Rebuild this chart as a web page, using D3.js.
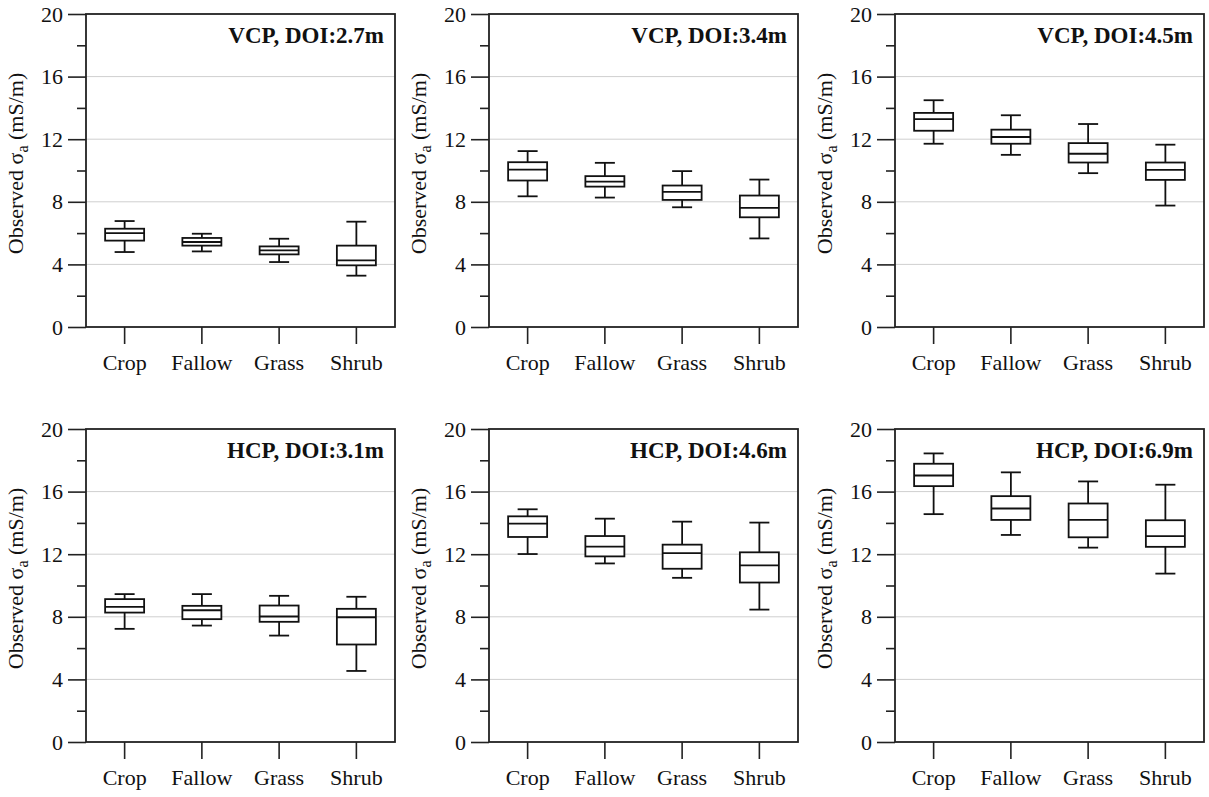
<!DOCTYPE html>
<html>
<head>
<meta charset="utf-8">
<script src="https://cdn.jsdelivr.net/npm/d3@7"></script>
<style>
  html, body { margin: 0; padding: 0; background: #fff; }
  svg { display: block; }
  text { font-family: "Liberation Serif", "Times New Roman", serif; fill: #111; }
</style>
</head>
<body>
<svg id="chart" width="1209" height="797"></svg>
<script>
// ---- data ----
const categories = ["Crop", "Fallow", "Grass", "Shrub"];
const panelTitles = ["VCP, DOI:2.7m", "VCP, DOI:3.4m", "VCP, DOI:4.5m",
                     "HCP, DOI:3.1m", "HCP, DOI:4.6m", "HCP, DOI:6.9m"];
const yMajorTicks = [0, 4, 8, 12, 16, 20];
const yMinorTicks = [2, 6, 10, 14, 18];
// each box: [lower whisker, Q1, median, Q3, upper whisker]
const vcp27 = [[4.79, 5.52, 6.00, 6.28, 6.77], [4.83, 5.20, 5.43, 5.69, 5.96],
               [4.15, 4.64, 4.90, 5.15, 5.64], [3.28, 3.94, 4.26, 5.20, 6.73]];
const vcp34 = [[8.35, 9.36, 10.06, 10.53, 11.24], [8.27, 8.97, 9.29, 9.64, 10.49],
               [7.65, 8.12, 8.63, 9.04, 9.96], [5.66, 7.01, 7.61, 8.40, 9.42]];
const vcp45 = [[11.71, 12.54, 13.28, 13.68, 14.49], [11.00, 11.71, 12.14, 12.61, 13.53],
               [9.83, 10.51, 11.07, 11.75, 12.97], [7.76, 9.40, 10.04, 10.51, 11.65]];
const hcp31 = [[7.23, 8.27, 8.64, 9.13, 9.45], [7.44, 7.85, 8.42, 8.70, 9.45],
               [6.80, 7.68, 8.02, 8.72, 9.34], [4.54, 6.23, 7.97, 8.51, 9.28]];
const hcp46 = [[12.01, 13.10, 13.95, 14.42, 14.87], [11.41, 11.86, 12.48, 13.16, 14.27],
               [10.49, 11.07, 12.07, 12.61, 14.08], [8.46, 10.19, 11.28, 12.12, 14.02]];
const hcp69 = [[14.56, 16.35, 17.03, 17.78, 18.44], [13.23, 14.19, 14.92, 15.71, 17.23],
               [12.42, 13.08, 14.19, 15.24, 16.65], [10.76, 12.47, 13.15, 14.17, 16.44]];
const panelData = [vcp27, vcp34, vcp45, hcp31, hcp46, hcp69];

// ---- layout ----
const colLeft = [86, 489, 895];
const rowTop = [14, 429];
const plotW = 309, plotH = 313;

const svg = d3.select("#chart");

panelData.forEach((boxes, i) => {
  const col = i % 3, row = Math.floor(i / 3);
  const g = svg.append("g").attr("transform", `translate(${colLeft[col]},${rowTop[row]})`);

  const y = d3.scaleLinear().domain([0, 20]).range([plotH, 0]);
  const x = d3.scaleBand().domain(categories).range([0, plotW]).padding(0);

  // gridlines
  g.append("g").selectAll("line").data(yMajorTicks.filter(t => t > 0 && t < 20)).join("line")
    .attr("x1", 0).attr("x2", plotW)
    .attr("y1", d => y(d)).attr("y2", d => y(d))
    .attr("stroke", "#cfcfcf").attr("stroke-width", 1);

  // y axis major
  const yAx = g.append("g").call(d3.axisLeft(y).tickValues(yMajorTicks).tickSize(18).tickPadding(5).tickFormat(d3.format("d")));
  yAx.select(".domain").remove();
  yAx.selectAll("line").attr("stroke", "#222").attr("stroke-width", 1.6);
  yAx.selectAll("text").style("font-family", '"Liberation Serif", serif').style("font-size", "22px").attr("fill", "#111");
  // y axis minor
  const yMin = g.append("g").call(d3.axisLeft(y).tickValues(yMinorTicks).tickSize(9).tickFormat(""));
  yMin.select(".domain").remove();
  yMin.selectAll("line").attr("stroke", "#222").attr("stroke-width", 1.6);

  // x axis
  const xAx = g.append("g").attr("transform", `translate(0,${plotH})`)
    .call(d3.axisBottom(x).tickSize(17).tickPadding(10));
  xAx.select(".domain").remove();
  xAx.selectAll("line").attr("stroke", "#222").attr("stroke-width", 1.6);
  xAx.selectAll("text").style("font-family", '"Liberation Serif", serif').style("font-size", "22px").attr("fill", "#111");

  // frame
  g.append("rect").attr("x", 0).attr("y", 0).attr("width", plotW).attr("height", plotH)
    .attr("fill", "none").attr("stroke", "#222").attr("stroke-width", 1.8);

  // boxes
  const boxW = 39, capW = 20;
  const bx = g.append("g").selectAll("g").data(boxes).join("g")
    .attr("transform", (d, j) => `translate(${x(categories[j]) + x.bandwidth() / 2},0)`);
  const stroke = "#111", sw = 1.8;
  bx.append("line").attr("x1", 0).attr("x2", 0).attr("y1", d => y(d[3])).attr("y2", d => y(d[4])).attr("stroke", stroke).attr("stroke-width", sw);
  bx.append("line").attr("x1", 0).attr("x2", 0).attr("y1", d => y(d[1])).attr("y2", d => y(d[0])).attr("stroke", stroke).attr("stroke-width", sw);
  bx.append("line").attr("x1", -capW / 2).attr("x2", capW / 2).attr("y1", d => y(d[4])).attr("y2", d => y(d[4])).attr("stroke", stroke).attr("stroke-width", sw);
  bx.append("line").attr("x1", -capW / 2).attr("x2", capW / 2).attr("y1", d => y(d[0])).attr("y2", d => y(d[0])).attr("stroke", stroke).attr("stroke-width", sw);
  bx.append("rect").attr("x", -boxW / 2).attr("width", boxW)
    .attr("y", d => y(d[3])).attr("height", d => y(d[1]) - y(d[3]))
    .attr("fill", "#fff").attr("stroke", stroke).attr("stroke-width", sw);
  bx.append("line").attr("x1", -boxW / 2).attr("x2", boxW / 2).attr("y1", d => y(d[2])).attr("y2", d => y(d[2])).attr("stroke", stroke).attr("stroke-width", sw);

  // title
  g.append("text").attr("x", plotW - 11).attr("y", 29).attr("text-anchor", "end")
    .style("font-size", "23px").style("font-weight", "bold").text(panelTitles[i]);

  // y label
  const lbl = g.append("text")
    .attr("transform", `translate(${-63},${plotH / 2 - 7}) rotate(-90)`)
    .attr("text-anchor", "middle").style("font-size", "22px");
  lbl.append("tspan").text("Observed σ");
  lbl.append("tspan").attr("dy", 5).style("font-size", "16px").text("a");
  lbl.append("tspan").attr("dy", -5).text(" (mS/m)");
});
</script>
</body>
</html>
